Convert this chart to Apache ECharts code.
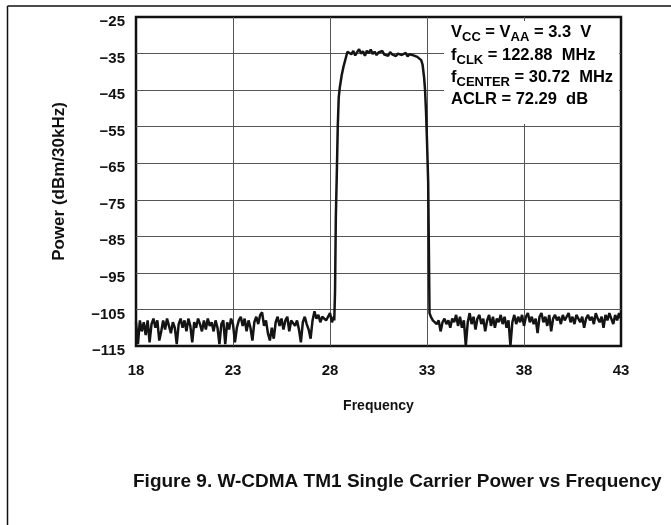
<!DOCTYPE html>
<html>
<head>
<meta charset="utf-8">
<script src="https://cdn.jsdelivr.net/npm/echarts@6/dist/echarts.min.js"></script>
<style>
  html, body { margin: 0; padding: 0; background: #fff; }
  #chart { width: 671px; height: 525px; }
</style>
</head>
<body>
<div id="chart"></div>
<script>
// axis ticks (MHz / dBm per 30 kHz)
const xTicks = [18, 23, 28, 33, 38, 43]
const yTicks = [-115, -105, -95, -85, -75, -65, -55, -45, -35, -25]

// noise floor below the carrier, sampled every 0.1 MHz from 18.0 to 28.2
const bandStep = 0.1
const lowerStart = 18.0
const lowerPower = [
  -108.5, -114.5, -108, -111, -108.5, -112, -108, -114, -109, -107.5,
  -110, -108, -113.5, -111, -108, -110.5, -107.5, -109.5, -111.5, -108.5,
  -110, -114.5, -109, -107.5, -110, -108, -111, -107.5, -109.5, -114,
  -108.5, -110, -107.5, -109, -111, -108, -110.5, -107.5, -109.5, -108.5,
  -111, -108, -110, -114.5, -109, -108, -114.5, -108.5, -110.5, -107.5,
  -109, -114, -110, -108, -107, -109.5, -107.5, -111, -108, -110,
  -113.5, -108.5, -107, -109, -106.5, -105.8, -109.5, -108, -111.5, -113.5,
  -110, -113, -108.5, -107, -109.5, -107.5, -110.5, -108, -107, -111,
  -108, -107.5, -109.5, -108, -110.5, -114, -108.5, -107, -109, -110.5,
  -113, -108, -105.5, -107.5, -106.5, -108.5, -107, -106.5, -108, -107,
  -106, -108.5, -107
]

// carrier: rising edge, flat top, falling edge
const carrierFreq = [
  28.22, 28.26, 28.3, 28.35, 28.4, 28.45, 28.5, 28.6, 28.7, 28.8, 28.9,
  29.0, 29.1, 29.2, 29.3, 29.4, 29.5, 29.6, 29.7, 29.8, 29.9,
  30.0, 30.1, 30.2, 30.3, 30.4, 30.5, 30.6, 30.7, 30.8, 30.9,
  31.0, 31.1, 31.2, 31.3, 31.4, 31.5, 31.6, 31.7, 31.8, 31.9,
  32.0, 32.1, 32.2, 32.3, 32.4, 32.5,
  32.6, 32.7, 32.77, 32.85, 32.9, 32.95, 33.0, 33.06, 33.1, 33.13
]
const carrierPower = [
  -108, -100, -80, -68, -55, -47, -44.5, -41, -38.5, -36.5, -34.5,
  -34.0, -35.2, -34.3, -35.5, -34.6, -33.8, -35.0, -34.4, -35.6, -34.2,
  -34.9, -33.9, -35.1, -34.5, -35.4, -34.7, -35.0, -34.3, -35.3, -34.8,
  -35.6, -34.6, -35.2, -34.9, -35.7, -35.0, -34.6, -35.4, -35.1, -34.8,
  -35.8, -35.2, -34.9, -35.5, -35.3, -35.9,
  -36, -36.8, -38, -41.5, -45, -51, -59, -70, -90, -106
]

// noise floor above the carrier, every 0.1 MHz from 33.2 to 43.0
const upperStart = 33.2
const upperPower = [
  -107, -108, -107.5, -109, -108, -111, -108.5, -107.5, -109, -108,
  -110, -107.5, -108.5, -106.5, -109.5, -107, -110, -108, -115, -108.5,
  -106, -109, -107, -110.5, -107.5, -106.5, -109, -107.5, -111, -108,
  -106.5, -109.5, -107, -110, -107.5, -108.5, -106.5, -109, -107, -110,
  -108, -115, -108.5, -106.5, -109, -107, -108.5, -106.5, -109.5, -107,
  -106, -108.5, -107, -109, -107.5, -111.5, -107, -106, -108.5, -107,
  -109.5, -106.5, -111, -107.5, -106.5, -108, -107, -109, -106.5, -108,
  -107, -106, -108.5, -107, -109, -106.5, -107.5, -108.5, -107, -110,
  -107.5, -106.5, -108, -107, -109, -106, -107.5, -108.5, -107, -110,
  -106.5, -108, -106, -107.5, -109, -106.5, -108, -106, -107.5
]

const trace = []
lowerPower.forEach((p, i) => trace.push([+(lowerStart + i * bandStep).toFixed(2), p]))
carrierFreq.forEach((f, i) => trace.push([f, carrierPower[i]]))
upperPower.forEach((p, i) => trace.push([+(upperStart + i * bandStep).toFixed(2), p]))

const font = 'Liberation Sans, Arial, Helvetica, sans-serif'
const minus = v => (v < 0 ? '\u2212' : '') + Math.abs(v)

// rich text styles for the condition box
const rich = {
  m: { fontFamily: font, fontWeight: 'bold', fontSize: 16.5, lineHeight: 22, color: '#111' },
  s: { fontFamily: font, fontWeight: 'bold', fontSize: 13, lineHeight: 12, verticalAlign: 'bottom', color: '#111' }
}
const boxLine = (y, text) => ({
  type: 'text', left: 451, top: y, z: 11,
  style: { text: text, rich: rich, font: 'bold 16.5px ' + font }
})

const chart = echarts.init(document.getElementById('chart'))
chart.setOption({
  animation: false,
  grid: {
    left: 136, right: 50, top: 17, bottom: 179,
    show: true, borderColor: '#111', borderWidth: 2.5
  },
  xAxis: {
    type: 'value',
    min: xTicks[0], max: xTicks[xTicks.length - 1], interval: xTicks[1] - xTicks[0],
    name: 'Frequency', nameLocation: 'middle', nameGap: 53,
    nameTextStyle: { fontFamily: font, fontWeight: 'bold', fontSize: 14, color: '#111' },
    axisLine: { show: false },
    axisTick: { show: false },
    axisLabel: { fontFamily: font, fontWeight: 'bold', fontSize: 15, color: '#111', margin: 17 },
    splitLine: { show: true, showMinLine: false, showMaxLine: false, lineStyle: { color: '#555', width: 1 } }
  },
  yAxis: {
    type: 'value',
    min: yTicks[0], max: yTicks[yTicks.length - 1], interval: yTicks[1] - yTicks[0],
    name: 'Power (dBm/30kHz)', nameLocation: 'middle', nameGap: 68,
    nameTextStyle: { fontFamily: font, fontWeight: 'bold', fontSize: 17, color: '#111' },
    axisLine: { show: false },
    axisTick: { show: false },
    axisLabel: {
      fontFamily: font, fontWeight: 'bold', fontSize: 15, color: '#111', margin: 11,
      verticalAlign: 'top', lineHeight: 10,
      formatter: minus
    },
    splitLine: { show: true, showMinLine: false, showMaxLine: false, lineStyle: { color: '#555', width: 1 } }
  },
  series: [{
    type: 'line',
    data: trace,
    showSymbol: false,
    clip: false,
    lineStyle: { color: '#141414', width: 2.5 }
  }],
  graphic: [
    // page frame
    { type: 'line', shape: { x1: 7.5, y1: 6, x2: 671, y2: 6 }, style: { stroke: '#111', lineWidth: 1.5 } },
    { type: 'line', shape: { x1: 7.5, y1: 6, x2: 7.5, y2: 525 }, style: { stroke: '#111', lineWidth: 1.5 } },
    // white box behind the test conditions
    { type: 'rect', z: 10, shape: { x: 444, y: 21, width: 175, height: 103 }, style: { fill: '#fff' } },
    boxLine(24, '{m|V}{s|CC}{m| = V}{s|AA}{m| = 3.3  V}'),
    boxLine(47, '{m|f}{s|CLK}{m| = 122.88  MHz}'),
    boxLine(69, '{m|f}{s|CENTER}{m| = 30.72  MHz}'),
    boxLine(91, '{m|ACLR = 72.29  dB}'),
    {
      type: 'text', left: 133, top: 472,
      style: { text: 'Figure 9. W-CDMA TM1 Single Carrier Power vs Frequency', font: 'bold 19px ' + font, fill: '#111' }
    }
  ]
})
</script>
</body>
</html>
